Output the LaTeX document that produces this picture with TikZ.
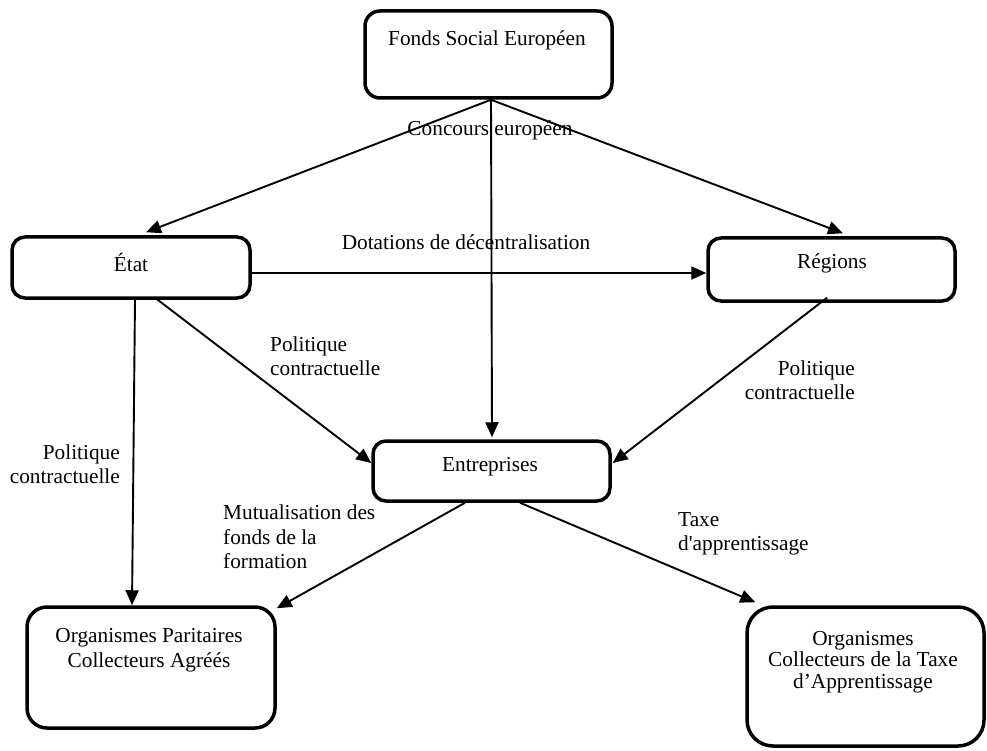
\documentclass[tikz,border=0pt]{standalone}
\usepackage{fontspec}
\setmainfont{Liberation Serif}
\usetikzlibrary{arrows.meta,calc}
\begin{document}
\begin{tikzpicture}[x=1pt,y=-1pt,
  box/.style={draw, line width=3.5pt, rounded corners=#1, inner sep=0pt},
  box/.default=13pt,
  txt/.style={inner sep=0pt, font=\fontsize{21.3}{24.5}\selectfont, align=center},
  lbl/.style={inner sep=0pt, font=\fontsize{21.3}{24.5}\selectfont},
  conn/.style={line width=1.9pt, -{Triangle[length=15pt,width=13pt]}}]
\useasboundingbox (0,0) rectangle (987,751);
% boxes
\node[box=15pt, minimum width=247pt, minimum height=87pt] (fse) at (488.5,54.5) {};
\node[box, minimum width=238pt, minimum height=61pt] (etat) at (131,267.5) {};
\node[box, minimum width=247pt, minimum height=63pt] (reg) at (831.5,269.5) {};
\node[box, minimum width=237pt, minimum height=60pt] (ent) at (491.5,471) {};
\node[box=20pt, minimum width=248pt, minimum height=121pt] (opca) at (151,667.5) {};
\node[box=26pt, minimum width=237pt, minimum height=139pt] (octa) at (865.5,676.5) {};
% box texts
\node[txt] (fset) at (487,40) {Fonds Social Européen};
\node[txt] (etatt) at (131,262) {État};
\node[txt] (regt) at (832,263) {Régions};
\node[txt] (entt) at (490,467) {Entreprises};
\node[txt] (opcat) at (149,650) {Organismes Paritaires\\Collecteurs Agréés};
\node[txt, font=\fontsize{21.3}{21.7}\selectfont] (octat) at (863,662) {Organismes\\Collecteurs de la Taxe\\d’Apprentissage};
% connectors
\coordinate (fsebot) at ($(fse.south)+(2.5,0)$);
\draw[conn] (fsebot) -- ($(etat.north)+(15,-3)$);
\draw[conn] (fsebot) -- ($(reg.north)+(11.5,-3)$);
\draw[conn] (fsebot) -- ($(ent.north)+(0.5,-2)$);
\draw[conn] ($(etat.east)+(0,5.5)$) -- ($(reg.west)+(0,3.5)$);
\draw[conn] ($(etat.south)+(24,-2)$) -- ($(ent.west)+(0,-8)$);
\draw[conn] ($(etat.south)+(4,0)$) -- ($(opca.north)+(-19,0)$);
\draw[conn] ($(reg.south)+(-4.5,-5)$) -- ($(ent.east)+(1,-8)$);
\draw[conn] ($(ent.south)+(-26.5,0)$) -- ($(opca.north east)+(0,3)$);
\draw[conn] ($(ent.south)+(28.5,0)$) -- ($(octa.north west)+(10,-3)$);
% labels
\node[lbl] (l1) at (490,130) {Concours européen};
\node[lbl] (l2) at (466,242) {Dotations de décentralisation};
\node[lbl, anchor=west, align=left] (l3) at (270,356) {Politique\\contractuelle};
\node[lbl, anchor=east, align=right] (l4) at (120,464) {Politique\\contractuelle};
\node[lbl, anchor=east, align=right] (l5) at (855,380) {Politique\\contractuelle};
\node[lbl, anchor=west, align=left] (l6) at (223,537) {Mutualisation des\\fonds de la\\formation};
\node[lbl, anchor=west, align=left] (l7) at (678,534) {Taxe\\d\textquotesingle apprentissage};
\end{tikzpicture}
\end{document}
